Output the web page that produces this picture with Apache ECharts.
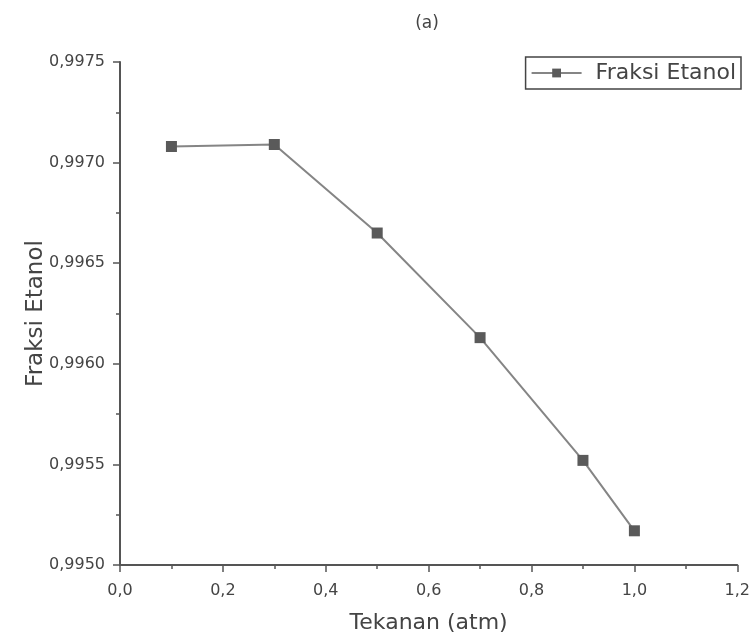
<!DOCTYPE html>
<html>
<head>
<meta charset="utf-8">
<script src="https://cdn.jsdelivr.net/npm/echarts@6/dist/echarts.min.js"></script>
<style>
  html, body { margin: 0; padding: 0; background: #fff; }
  #chart { width: 753px; height: 639px; }
</style>
</head>
<body>
<div id="chart"></div>
<script>
// Pressure (atm) vs ethanol fraction
const pressure = [0.1, 0.3, 0.5, 0.7, 0.9, 1.0];
const ethanolFraction = [0.99708, 0.99709, 0.99665, 0.99613, 0.99552, 0.99517];
const seriesName = 'Fraksi Etanol';
const xTicks = { min: 0, max: 1.2, step: 0.2 };
const yTicks = { min: 0.9950, max: 0.9975, step: 0.0005 };

const comma = (v, d) => v.toFixed(d).replace('.', ',');
const textColor = '#444';
const axisColor = '#555';

const chart = echarts.init(document.getElementById('chart'));
chart.setOption({
  animation: false,
  backgroundColor: '#fff',
  textStyle: { fontFamily: 'DejaVu Sans, sans-serif' },
  title: {
    text: '(a)',
    left: 422, top: 10,
    textAlign: 'center',
    textStyle: { fontSize: 17, fontWeight: 'normal', color: textColor, fontFamily: 'DejaVu Sans' }
  },
  legend: {
    right: 12, top: 57,
    itemWidth: 50, itemHeight: 11, itemGap: 0,
    padding: [5, 5, 5, 5],
    borderColor: '#444', borderWidth: 1.5, borderRadius: 0,
    textStyle: { fontSize: 22, color: textColor, fontFamily: 'DejaVu Sans', padding: [0, 0, 0, 9] },
    data: [seriesName]
  },
  grid: { left: 120, right: 13, top: 62, bottom: 74 },
  xAxis: {
    type: 'value',
    min: xTicks.min, max: xTicks.max, interval: xTicks.step,
    name: 'Tekanan (atm)',
    nameLocation: 'middle', nameGap: 47,
    nameMoveOverlap: false,
    nameTextStyle: { fontSize: 22, color: textColor, fontFamily: 'DejaVu Sans' },
    axisLine: { lineStyle: { color: axisColor, width: 2 } },
    axisTick: { show: true, length: 7, lineStyle: { color: axisColor, width: 1.5 } },
    minorTick: { show: true, splitNumber: 2, length: 4, lineStyle: { color: axisColor, width: 1.5 } },
    splitLine: { show: false },
    axisLabel: { fontSize: 16, color: textColor, margin: 18, fontFamily: 'DejaVu Sans', formatter: v => comma(v, 1) }
  },
  yAxis: {
    type: 'value',
    min: yTicks.min, max: yTicks.max, interval: yTicks.step,
    name: 'Fraksi Etanol',
    nameLocation: 'middle', nameGap: 72,
    nameMoveOverlap: false,
    nameTextStyle: { fontSize: 23, color: textColor, fontFamily: 'DejaVu Sans' },
    axisLine: { show: true, lineStyle: { color: axisColor, width: 2 } },
    axisTick: { show: true, length: 7, lineStyle: { color: axisColor, width: 1.5 } },
    minorTick: { show: true, splitNumber: 2, length: 4, lineStyle: { color: axisColor, width: 1.5 } },
    splitLine: { show: false },
    axisLabel: { fontSize: 16, color: textColor, margin: 15, fontFamily: 'DejaVu Sans', formatter: v => comma(v, 4) }
  },
  series: [{
    name: seriesName,
    type: 'line',
    data: pressure.map((p, i) => [p, ethanolFraction[i]]),
    symbol: 'rect',
    symbolSize: 11,
    itemStyle: { color: '#5a5a5a' },
    lineStyle: { color: '#858585', width: 2 }
  }]
});
</script>
</body>
</html>
